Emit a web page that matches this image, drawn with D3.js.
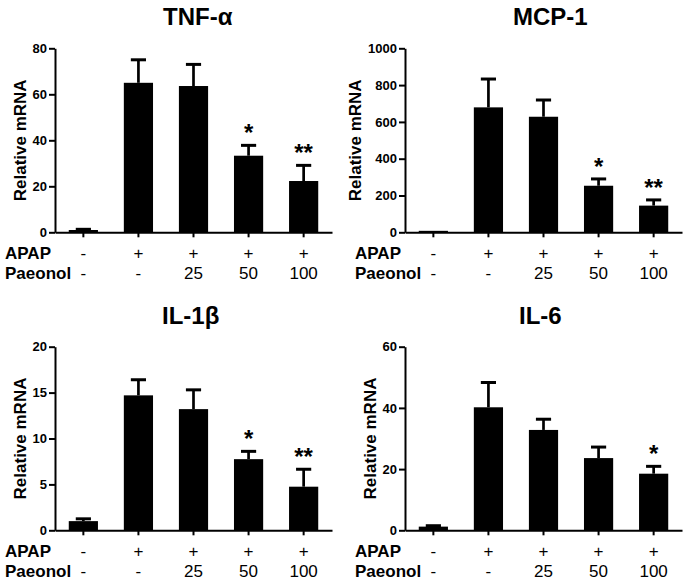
<!DOCTYPE html>
<html>
<head>
<meta charset="utf-8">
<script src="https://cdn.jsdelivr.net/npm/d3@7"></script>
<style>
  html, body { margin: 0; padding: 0; background: #fff; }
  svg { display: block; font-family: Arial, "Liberation Sans", sans-serif; }
</style>
</head>
<body>
<svg id="chart" width="686" height="580"></svg>
<script>
// ---------- data ----------
const groups = ["g1", "g2", "g3", "g4", "g5"];
const apapRow = ["-", "+", "+", "+", "+"];
const paeonolRow = ["-", "-", "25", "50", "100"];
const rowNames = ["APAP", "Paeonol"];
const titles = ["TNF-\u03b1", "MCP-1", "IL-1\u03b2", "IL-6"];
const yLabel = "Relative mRNA";

const tnfMean = [1, 65, 63.6, 33.3, 22.3];
const tnfSem  = [0.3, 10, 9.4, 4.5, 6.8];
const tnfStars = ["", "", "", "*", "**"];
const tnfTicks = [0, 20, 40, 60, 80];

const mcpMean = [8, 679, 628, 253, 145];
const mcpSem  = [0, 154, 91, 37, 31];
const mcpStars = ["", "", "", "*", "**"];
const mcpTicks = [0, 200, 400, 600, 800, 1000];

const il1bMean = [1.0, 14.7, 13.2, 7.75, 4.75];
const il1bSem  = [0.25, 1.7, 2.1, 0.85, 1.9];
const il1bStars = ["", "", "", "*", "**"];
const il1bTicks = [0, 5, 10, 15, 20];

const il6Mean = [1.2, 40.2, 32.8, 23.6, 18.5];
const il6Sem  = [0.3, 8.1, 3.5, 3.6, 2.4];
const il6Stars = ["", "", "", "", "*"];
const il6Ticks = [0, 20, 40, 60];

// ---------- layout ----------
const FONT = "Arial, 'Liberation Sans', sans-serif";
const panels = [
  { title: titles[0], mean: tnfMean, sem: tnfSem, stars: tnfStars, ticks: tnfTicks, ax: 55,  top: 48.3,  bottom: 232.3, tdx: 108 },
  { title: titles[1], mean: mcpMean, sem: mcpSem, stars: mcpStars, ticks: mcpTicks, ax: 405, top: 48.3,  bottom: 232.3, tdx: 108 },
  { title: titles[2], mean: il1bMean, sem: il1bSem, stars: il1bStars, ticks: il1bTicks, ax: 55,  top: 346.7, bottom: 530.3, tdx: 107 },
  { title: titles[3], mean: il6Mean, sem: il6Sem, stars: il6Stars, ticks: il6Ticks, ax: 405, top: 346.7, bottom: 530.3, tdx: 114 }
];
const axisLen = 277;

const svg = d3.select("#chart");

panels.forEach(p => {
  const g = svg.append("g");
  const x = d3.scaleBand().domain(groups).range([p.ax, p.ax + axisLen])
    .paddingInner(0.47).paddingOuter(0.25);
  const y = d3.scaleLinear().domain([0, d3.max(p.ticks)]).range([p.bottom, p.top]);

  // bars
  g.selectAll("rect.bar").data(groups).join("rect")
    .attr("class", "bar")
    .attr("x", d => x(d))
    .attr("width", x.bandwidth())
    .attr("y", (d, i) => y(p.mean[i]))
    .attr("height", (d, i) => y(0) - y(p.mean[i]))
    .attr("fill", "#000");

  // error bars (upper only)
  const capW = x.bandwidth() * 0.52;
  groups.forEach((d, i) => {
    if (p.sem[i] <= 0) return;
    const cx = x(d) + x.bandwidth() / 2;
    const yt = y(p.mean[i] + p.sem[i]);
    g.append("line").attr("x1", cx).attr("x2", cx)
      .attr("y1", y(p.mean[i])).attr("y2", yt)
      .attr("stroke", "#000").attr("stroke-width", 2.7);
    g.append("line").attr("x1", cx - capW / 2).attr("x2", cx + capW / 2)
      .attr("y1", yt).attr("y2", yt)
      .attr("stroke", "#000").attr("stroke-width", 3);
  });

  // stars
  g.selectAll("text.star").data(groups).join("text")
    .attr("class", "star")
    .attr("x", d => x(d) + x.bandwidth() / 2)
    .attr("y", (d, i) => y(p.mean[i] + p.sem[i]) - 4)
    .attr("text-anchor", "middle")
    .attr("font-size", 24)
    .attr("font-weight", "bold")
    .text((d, i) => p.stars[i]);

  // y axis
  const yAxis = g.append("g")
    .attr("transform", `translate(${p.ax},0)`)
    .call(d3.axisLeft(y).tickValues(p.ticks).tickFormat(d3.format("d"))
      .tickSize(6).tickSizeOuter(0).tickPadding(2))
    .attr("font-size", 13).attr("font-family", FONT).attr("font-weight", "bold");
  yAxis.select(".domain").attr("stroke-width", 2);
  yAxis.selectAll(".tick line").attr("stroke-width", 2);
  yAxis.selectAll(".tick text").attr("fill", "#000");

  // x axis
  const xAxis = g.append("g")
    .attr("transform", `translate(0,${p.bottom})`)
    .call(d3.axisBottom(x).tickSize(5).tickSizeOuter(0).tickFormat(""));
  xAxis.select(".domain").attr("stroke-width", 2);
  xAxis.selectAll(".tick line").attr("stroke-width", 2);

  // y label
  let minLeft = Infinity;
  yAxis.selectAll(".tick text").each(function () {
    const b = this.getBBox();
    minLeft = Math.min(minLeft, p.ax + b.x);
  });
  const lx = minLeft - 7;
  const ly = (p.top + p.bottom) / 2;
  g.append("text")
    .attr("transform", `translate(${lx},${ly}) rotate(-90)`)
    .attr("text-anchor", "middle")
    .attr("font-size", 17).attr("font-weight", "bold")
    .text(yLabel);

  // title
  g.append("text")
    .attr("x", p.ax + p.tdx).attr("y", p.top - 23)
    .attr("font-size", 24).attr("font-weight", "bold")
    .text(p.title);

  // row labels
  const rows = [apapRow, paeonolRow];
  const rowY = [p.bottom + 26.5, p.bottom + 46.5];
  rows.forEach((row, r) => {
    g.append("text")
      .attr("x", p.ax - 50).attr("y", rowY[r])
      .attr("font-size", 17).attr("font-weight", "bold")
      .text(rowNames[r]);
    g.selectAll(null).data(groups).join("text")
      .attr("x", d => x(d) + x.bandwidth() / 2)
      .attr("y", rowY[r])
      .attr("text-anchor", "middle")
      .attr("font-size", 17)
      .text((d, i) => row[i]);
  });
});
</script>
</body>
</html>
